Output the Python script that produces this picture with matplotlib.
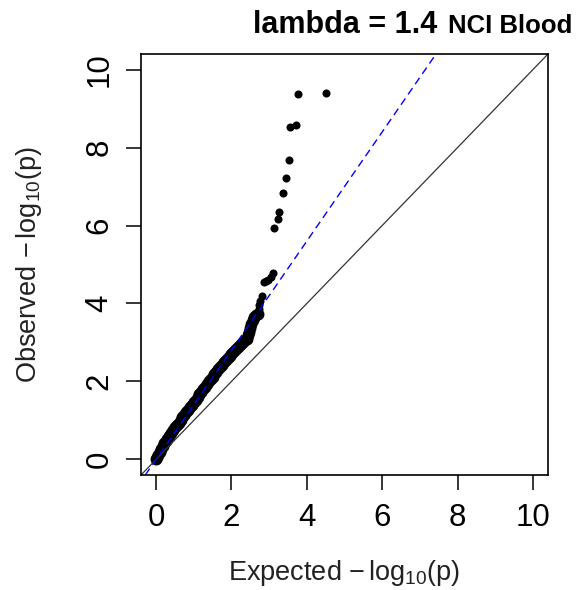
"""QQ plot of -log10(p): observed vs expected, with lambda line."""

import matplotlib

matplotlib.use("Agg")
import matplotlib.pyplot as plt  # noqa: E402

LAMBDA = 1.4

# bulk of the points (expected, observed)
body_expected = [
    0.00, 0.03, 0.06, 0.10, 0.14, 0.18, 0.22, 0.26, 0.30, 0.35, 0.40, 0.45,
    0.50, 0.55, 0.60, 0.65, 0.70, 0.75, 0.80, 0.85, 0.90, 0.95, 1.00, 1.05,
    1.10, 1.15, 1.20, 1.25, 1.30, 1.35, 1.40, 1.45, 1.50, 1.55, 1.60, 1.65,
    1.70, 1.75, 1.80, 1.85, 1.90, 1.95, 2.00, 2.05, 2.10, 2.15, 2.20, 2.25,
    2.30, 2.35, 2.40, 2.44, 2.47, 2.50, 2.53, 2.56, 2.60, 2.65, 2.70,
]
body_observed = [
    0.00, 0.06, 0.12, 0.20, 0.27, 0.34, 0.41, 0.47, 0.53, 0.61, 0.68, 0.75,
    0.82, 0.88, 0.94, 1.01, 1.08, 1.14, 1.21, 1.27, 1.34, 1.40, 1.47, 1.53,
    1.60, 1.67, 1.74, 1.80, 1.87, 1.93, 2.00, 2.06, 2.12, 2.19, 2.25, 2.31,
    2.37, 2.43, 2.49, 2.55, 2.61, 2.66, 2.71, 2.76, 2.81, 2.86, 2.91, 2.96,
    3.01, 3.06, 3.10, 3.18, 3.28, 3.38, 3.48, 3.57, 3.66, 3.71, 3.73,
]

# upper tail, individual points
tail_expected = [
    2.72, 2.74, 2.77, 2.80, 2.87, 2.92, 2.97, 3.05, 3.10,
    3.13, 3.23, 3.27, 3.38, 3.45, 3.53, 3.56, 3.72, 3.77, 4.51,
]
tail_observed = [
    3.85, 3.97, 4.07, 4.18, 4.54, 4.57, 4.60, 4.69, 4.77,
    5.93, 6.17, 6.34, 6.83, 7.22, 7.69, 8.54, 8.57, 9.38, 9.39,
]

ticks = [0, 2, 4, 6, 8, 10]

plt.rcParams["font.family"] = ["Liberation Sans", "DejaVu Sans"]
plt.rcParams["mathtext.fontset"] = "custom"
plt.rcParams["mathtext.rm"] = "Liberation Sans"
plt.rcParams["mathtext.it"] = "Liberation Sans:italic"

fig = plt.figure(figsize=(5.76, 5.90), dpi=100)
ax = fig.add_axes([141 / 576, 115 / 590, 407 / 576, 421 / 590])

ax.plot(body_expected, body_observed, "o", color="black", ms=8.6, mew=0)
ax.plot(tail_expected, tail_observed, "o", color="black", ms=5.8, mew=0)
ax.axline((0, 0), slope=1, color="#333333", lw=0.9)
ax.axline((0, 0), slope=LAMBDA, color="#0000ff", lw=1.0, ls=(0, (5.5, 3.5)))

ax.set_xlim(-0.4, 10.4)
ax.set_ylim(-0.4, 10.4)
ax.set_xticks(ticks)
ax.set_yticks(ticks)
ax.tick_params(length=11, width=1.1, labelsize=22.5, color="black")
ax.tick_params(axis="x", pad=9)
ax.tick_params(axis="y", pad=8, labelrotation=90)
for lab in ax.get_yticklabels():
    lab.set_va("center")
for s in ax.spines.values():
    s.set_linewidth(1.2)

ax.set_xlabel(r"Expected $-\,\mathrm{log}_{10}$(p)", fontsize=19.5, color="#222222")
ax.set_ylabel(r"Observed $-\,\mathrm{log}_{10}$(p)", fontsize=19.5, color="#222222")
ax.xaxis.set_label_coords(0.5, -0.233)
ax.xaxis.label.set_va("center")
ax.yaxis.set_label_coords(-0.276, 0.5)
ax.yaxis.label.set_va("center")

fig.text(345 / 576, 1 - 33 / 590, f"lambda = {LAMBDA}", fontsize=22,
         fontweight="bold", ha="center", va="baseline")
fig.text(448 / 576, 1 - 33 / 590, "NCI Blood", fontsize=18.5,
         fontweight="bold", ha="left", va="baseline")

fig.savefig("out.png", dpi=100)
